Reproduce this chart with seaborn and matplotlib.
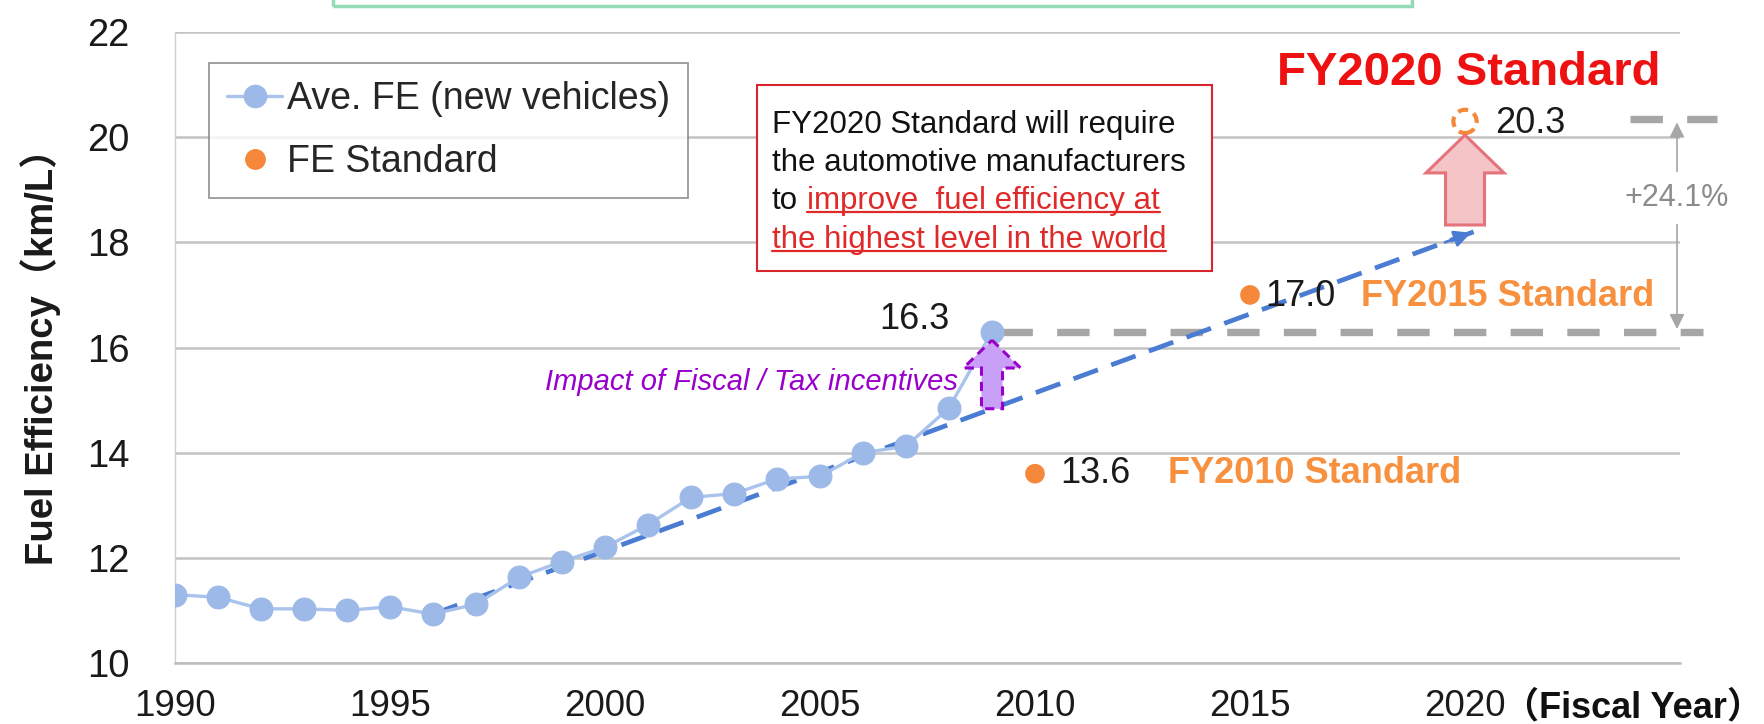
import numpy as np
import pandas as pd
import matplotlib
matplotlib.use("Agg")
import matplotlib.pyplot as plt
import seaborn as sns
from matplotlib.lines import Line2D
from matplotlib.patches import FancyArrow, Rectangle

# data
years = list(range(1990, 2010))
ave_fe = [11.3, 11.25, 11.03, 11.03, 11.0, 11.07, 10.93, 11.12, 11.63, 11.93,
          12.2, 12.63, 13.15, 13.22, 13.5, 13.55, 14.0, 14.12, 14.85, 16.3]
std_years = [2010, 2015, 2020]
std_values = [13.6, 17.0, 20.3]
std_names = ["FY2010 Standard", "FY2015 Standard", "FY2020 Standard"]
trend_years = [1996, 2020.2]
trend_values = [10.93, 18.2]
x_ticks = [1990, 1995, 2000, 2005, 2010, 2015, 2020]
y_ticks = [10, 12, 14, 16, 18, 20, 22]
increase = "+24.1%"

sns.set_style("white")
plt.rcParams['font.family'] = ['Liberation Sans', 'Noto Sans CJK JP', 'DejaVu Sans']

line_blue = "#a9c3ec"
dot_blue = "#9cb9e8"
trend_blue = "#4a7cd3"
orange = "#f5883a"
orange_txt = "#f7913f"
grey = "#a6a6a6"
purple = "#9900cc"

W, H = 1765, 724
fig = plt.figure(figsize=(W / 100, H / 100), dpi=100)
ax = fig.add_axes([175 / W, 1 - 663 / H, 1505 / W, 631 / H])

df = pd.DataFrame({"year": years, "fe": ave_fe})
sns.lineplot(data=df, x="year", y="fe", ax=ax, color=line_blue, lw=2.4,
             marker="o", markersize=16.5, markerfacecolor=dot_blue,
             markeredgecolor=dot_blue, zorder=4)

# trend line with arrow head
ax.plot(trend_years, trend_values, color=trend_blue, lw=3.4, dashes=(5.5, 3), zorder=3)
dx = trend_years[1] - trend_years[0]
dy = trend_values[1] - trend_values[0]
ax.annotate("", xy=(trend_years[1], trend_values[1]),
            xytext=(trend_years[1] - dx * 0.03, trend_values[1] - dy * 0.03),
            arrowprops=dict(arrowstyle="-|>,head_length=1.0,head_width=0.5",
                            color=trend_blue, lw=2), zorder=3)

# standards
sdf = pd.DataFrame({"year": std_years[:2], "val": std_values[:2]})
sns.scatterplot(data=sdf, x="year", y="val", ax=ax, color=orange, s=200,
                edgecolor="none", zorder=5)
ax.scatter([std_years[2]], [std_values[2]], s=280, facecolor="none",
           edgecolor=orange, linewidths=3, linestyle=(0, (2.5, 1.5)), zorder=5)

ax.set_xlim(1990, 2025)
ax.set_ylim(10, 22)
ax.set_xticks(x_ticks + [2025], [str(t) for t in x_ticks] + [""])
ax.set_yticks(y_ticks)
ax.grid(axis="y", color="#c3c3c3", lw=1.8)
ax.grid(axis="x", visible=False)
for s in ["top", "right"]:
    ax.spines[s].set_visible(False)
ax.spines["left"].set_color("#cfcfcf")
ax.spines["left"].set_linewidth(1)
ax.spines["bottom"].set_color("#bdbdbd")
ax.spines["bottom"].set_linewidth(1.8)
ax.tick_params(axis="y", length=8, width=1.8, color="#c3c3c3", pad=25,
               labelsize=27.5, labelcolor="#1a1a1a")
ax.tick_params(axis="x", length=7, width=1.5, color="#bdbdbd", pad=12,
               labelsize=26.5, labelcolor="#1a1a1a")
ax.set_xlabel("")
ax.set_ylabel("Fuel Efficiency（km/L）", fontsize=27.5, fontweight="bold", color="#1a1a1a")
ax.yaxis.set_label_coords(-0.0758, 0.5)
fig.text(0.999, 1 - 717 / H, "（Fiscal Year）", fontsize=26, fontweight="bold",
         ha="right", va="baseline", color="#111111")

# legend
handles = [Line2D([], [], color=line_blue, lw=2.4, marker="o", markersize=16,
                  markerfacecolor=dot_blue, markeredgecolor=dot_blue),
           Line2D([], [], ls="none", marker="o", markersize=14,
                  markerfacecolor=orange, markeredgecolor=orange)]
leg = ax.legend(handles, ["Ave. FE (new vehicles)", "FE Standard"], loc="upper left",
                bbox_to_anchor=(0.0226, 0.951), borderaxespad=0, fontsize=27,
                frameon=True, fancybox=False, edgecolor="#7f7f7f",
                handlelength=1.47, handletextpad=0.13, labelspacing=0.73,
                borderpad=0.48)
leg.get_frame().set_linewidth(1.3)
leg.set_zorder(6)

# value labels
ax.annotate(f"{ave_fe[-1]:.1f}", (years[-1], ave_fe[-1]), xytext=(-43, 12),
            textcoords="offset pixels", ha="right", va="center", fontsize=26,
            color="#1a1a1a")
label_off = [(25, 0, 133), (15, -2, 111)]
for (yr, v, nm), (ox, oy, nx_) in zip(zip(std_years[:2], std_values[:2], std_names[:2]), label_off):
    ax.annotate(f"{v:.1f}", (yr, v), xytext=(ox, oy), textcoords="offset pixels",
                ha="left", va="center", fontsize=26, color="#1a1a1a")
    ax.annotate(nm, (yr, v), xytext=(nx_, oy), textcoords="offset pixels",
                ha="left", va="center", fontsize=26, fontweight="bold", color=orange_txt)
ax.annotate(f"{std_values[2]:.1f}", (std_years[2], std_values[2]), xytext=(30, -2),
            textcoords="offset pixels", ha="left", va="center", fontsize=26, color="#1a1a1a")
ax.annotate(std_names[2], (std_years[2], std_values[2]), xytext=(4, 48),
            textcoords="offset pixels", ha="center", va="center", fontsize=34,
            fontweight="bold", color="#ee1111")

# grey reference lines and the +24.1% arrow
ax.plot([2009.19, 2025.53], [ave_fe[-1]] * 2, color=grey, lw=5.3, dashes=(4.4, 3.3),
        clip_on=False, zorder=2)
ax.plot([2023.84, 2025.86], [std_values[2] + 0.05] * 2, color=grey, lw=5.3,
        dashes=(4.4, 3.3), clip_on=False, zorder=2)
ax.annotate("", xy=(2024.93, std_values[2] - 0.02), xytext=(2024.93, ave_fe[-1] + 0.05),
            arrowprops=dict(arrowstyle="<|-|>,head_length=0.9,head_width=0.45",
                            color=grey, lw=1.2, shrinkA=0, shrinkB=0),
            annotation_clip=False)
ax.text(2024.93, 18.84, increase, ha="center", va="center", fontsize=22, color="#8c8c8c",
        bbox=dict(boxstyle="square,pad=0.35", fc="white", ec="none"), zorder=7)

# block arrows
pink = FancyArrow(std_years[2], trend_values[1] + 0.13, 0, 20.04 - trend_values[1] - 0.13,
                  width=0.907, head_width=1.814, head_length=0.72,
                  length_includes_head=True, fc="#f4c4c7", ec="#e5737b", lw=2.2, zorder=6)
ax.add_patch(pink)
trend_2009 = trend_values[0] + (2009 - trend_years[0]) * dy / dx
purp = FancyArrow(2009, trend_2009, 0, 16.14 - trend_2009, width=0.49, head_width=1.33,
                  head_length=0.53, length_includes_head=True, fc="#c8a0f8", ec=purple,
                  lw=2.2, ls=(0, (3, 2)), zorder=6)
ax.add_patch(purp)
ax.text(2008.2, 15.34, "Impact of Fiscal / Tax incentives", ha="right", va="center",
        fontsize=21, style="italic", color=purple)

# green box edge at top (only its bottom is inside the picture)
fig.patches.append(Rectangle((333 / W, 1 - 6 / H), (1412 - 333) / W, 0.2,
                             transform=fig.transFigure, fill=False, ec="#93dab6", lw=2.5))

# red text box
fig.patches.append(Rectangle((757 / W, 1 - 271 / H), (1212 - 757) / W, 186 / H,
                             transform=fig.transFigure, fc="white", ec="#d9262c", lw=1.5,
                             zorder=5))
box_red = "#e02a2a"
tx = 772 / W
base = [133, 171, 209, 248]
fig.text(tx, 1 - base[0] / H, "FY2020 Standard will require", fontsize=22.5,
         va="baseline", color="#111111", zorder=6)
fig.text(tx, 1 - base[1] / H, "the automotive manufacturers", fontsize=22.5,
         va="baseline", color="#111111", zorder=6)
t_to = fig.text(tx, 1 - base[2] / H, "to", fontsize=22.5, va="baseline", color="#111111", zorder=6)
fig.canvas.draw()
r = fig.canvas.get_renderer()
to_right = t_to.get_window_extent(r).x1
space = 22.5 * 100 / 72 * 0.278
t3 = fig.text((to_right + space) / W, 1 - base[2] / H, "improve  fuel efficiency at",
              fontsize=22.5, va="baseline", color=box_red, zorder=6)
t4 = fig.text(tx, 1 - base[3] / H, "the highest level in the world", fontsize=22.5,
              va="baseline", color=box_red, zorder=6)
for t, b in [(t3, base[2]), (t4, base[3])]:
    bb = t.get_window_extent(r)
    yy = 1 - (b + 3) / H
    fig.lines.append(Line2D([bb.x0 / W, bb.x1 / W], [yy, yy], transform=fig.transFigure,
                            color=box_red, lw=1.6, zorder=6))

fig.savefig("out.png", dpi=100)
